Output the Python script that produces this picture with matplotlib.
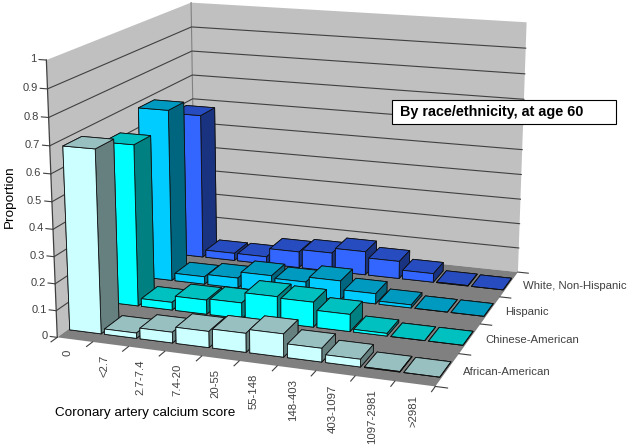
import numpy as np
import matplotlib
matplotlib.use('Agg')
import matplotlib.pyplot as plt
from matplotlib.patches import Rectangle
from mpl_toolkits.mplot3d import proj3d
from mpl_toolkits.mplot3d.art3d import Poly3DCollection

plt.rcParams['font.family'] = ['Liberation Sans', 'DejaVu Sans']

categories = ['0', '<2.7', '2.7-7.4', '7.4-20', '20-55', '55-148', '148-403', '403-1097', '1097-2981', '>2981']
series_names = ['African-American', 'Chinese-American', 'Hispanic', 'White, Non-Hispanic']
african = [0.68, 0.02, 0.04, 0.06, 0.07, 0.085, 0.05, 0.028, 0.002, 0.0]
chinese = [0.62, 0.03, 0.055, 0.06, 0.10, 0.095, 0.065, 0.01, 0.0, 0.0]
hispanic = [0.68, 0.03, 0.04, 0.065, 0.055, 0.075, 0.04, 0.012, 0.0, 0.0]
white = [0.59, 0.03, 0.03, 0.065, 0.075, 0.095, 0.07, 0.035, 0.002, 0.0]
values = [african, chinese, hispanic, white]
z_ticks = [0, 0.1, 0.2, 0.3, 0.4, 0.5, 0.6, 0.7, 0.8, 0.9, 1]
z_labels = ['0', '0.1', '0.2', '0.3', '0.4', '0.5', '0.6', '0.7', '0.8', '0.9', '1']

# top, front, side colours for each series
front = ['#CCFFFF', '#00FFFF', '#00CCFF', '#3366FF']
top = ['#99C0C0', '#00C0C0', '#0099C0', '#264CC0']
side = ['#668080', '#008080', '#006680', '#1A3380']

W, H = 629, 446
fig = plt.figure(figsize=(W / 100, H / 100), dpi=100)

# camera and box fitted to the corners of the walls
S, ox, oy = 560.71, 292.7, 264.2
ax = fig.add_axes([(ox - S / 2) / W, (oy - S / 2) / H, S / W, S / H], projection='3d', computed_zorder=False)
ax.set_xlim(0, 10, view_margin=0)
ax.set_ylim(0, 4, view_margin=0)
ax.set_zlim(0, 1, view_margin=0)
ax.set_axis_off()
ax.patch.set_alpha(0)
ax.view_init(15.091, -70.676)
ax.set_proj_type('persp', focal_length=0.5651)
ax.set_box_aspect((1.383, 1.262, 1))
M = ax.get_proj()


def label(x, y, z, s, **kw):
    px, py, _ = proj3d.proj_transform(x, y, z, M)
    ax.text2D(px, py, s, transform=ax.transData, color='#404040', **kw)


# walls and floor
ax.add_collection3d(Poly3DCollection([[(0, 0, 0), (0, 4, 0), (0, 4, 1), (0, 0, 1)]], facecolor='#C0C0C0', edgecolor='none', zorder=1))
ax.add_collection3d(Poly3DCollection([[(0, 4, 0), (10, 4, 0), (10, 4, 1), (0, 4, 1)]], facecolor='#C0C0C0', edgecolor='none', zorder=1))
ax.add_collection3d(Poly3DCollection([[(0, 0, 0), (10, 0, 0), (10, 4, 0), (0, 4, 0)]], facecolor='#808080', edgecolor='none', zorder=2))
ax.plot([0, 0], [4, 4], [0, 1], color='#808080', lw=0.8, zorder=3)
for z in z_ticks[1:-1]:
    ax.plot([0, 0, 10], [0, 4, 4], [z, z, z], color='#404040', lw=0.8, zorder=3)

dx, dy = 0.9, 0.47
for j in [3, 2, 1, 0]:
    for i in range(10):
        cols = [top[j], top[j], front[j], front[j], side[j], side[j]]
        ax.bar3d(i + (1 - dx) / 2, j + (1 - dy) / 2, 0, dx, dy, values[j][i], color=cols, shade=False,
                 edgecolor='#101010', linewidth=0.6, zorder=10 + (3 - j) * 20 + i)

# axis lines, ticks and labels
ax.plot([0, 0], [0, 0], [0, 1], color='#404040', lw=0.9, zorder=3)
for z, lab in zip(z_ticks, z_labels):
    ax.plot([0, -0.2], [0, 0], [z, z], color='#404040', lw=0.8, zorder=3)
    label(-0.27, 0, z, lab, ha='right', va='center', fontsize=8)

for i, lab in enumerate(categories):
    ax.plot([i, i], [0, -0.15], [0, 0], color='#404040', lw=0.8, zorder=3)
    label(i + 0.65, -0.3, 0, lab, rotation=90, ha='center', va='top', fontsize=8.2)
ax.plot([10, 10], [0, -0.15], [0, 0], color='#404040', lw=0.8, zorder=3)
for j, lab in enumerate(series_names):
    ax.plot([10, 10.3], [j, j], [0, 0], color='#404040', lw=0.8, zorder=3)
    label(10.4, j + 0.5, 0, lab, ha='left', va='center', fontsize=8.2)
ax.plot([10, 10.3], [4, 4], [0, 0], color='#404040', lw=0.8, zorder=3)

fig.text(55 / W, 1 - 413 / H, 'Coronary artery calcium score', fontsize=9.7, color='black', va='center')
fig.text(10 / W, 1 - 197 / H, 'Proportion', fontsize=9.7, rotation=90, color='black', ha='center', va='center')
fig.add_artist(Rectangle((392 / W, 1 - 124 / H), 224 / W, 24 / H, transform=fig.transFigure,
                         facecolor='white', edgecolor='black', linewidth=0.8))
fig.text(400 / W, 1 - 112 / H, 'By race/ethnicity, at age 60', fontsize=10.4, fontweight='bold', va='center')

fig.savefig('out.png', dpi=100)
